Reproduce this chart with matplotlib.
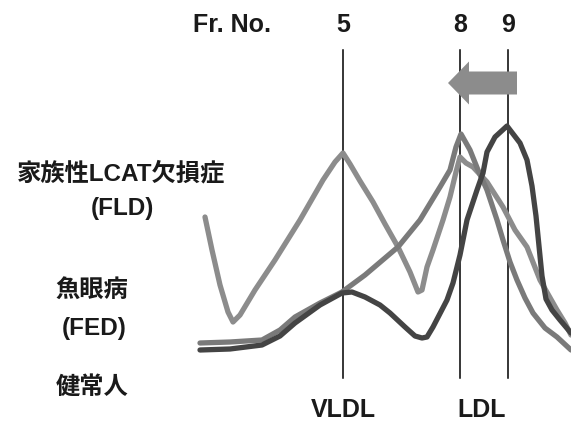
import matplotlib
matplotlib.use("Agg")
import matplotlib.pyplot as plt
from matplotlib.patches import FancyArrow

# elution position (x) and signal height (y, counted up from the bottom of the image)
fld_x = [205, 212, 220, 228, 233, 240, 255, 275, 300, 323, 335, 343, 350, 360, 373, 385, 398, 410, 418,
         422, 427, 433, 443, 450, 456, 460, 466, 473, 487, 503, 515, 527, 540, 557, 565, 571]
fld_y = [204, 171, 136, 109, 99, 106, 131, 161, 201, 241, 259, 268, 257, 240, 219, 197, 174, 149, 129,
         131, 154, 171, 201, 224, 249, 264, 258, 254, 239, 214, 191, 174, 141, 111, 98, 86]

fed_x = [200, 230, 262, 280, 295, 320, 342, 365, 398, 420, 440, 450, 456, 461, 470, 478, 487, 497,
         503, 510, 517, 525, 533, 545, 557, 571]
fed_y = [78, 79, 81, 91, 104, 118, 129, 146, 174, 201, 234, 251, 274, 287, 271, 251, 231, 201,
         181, 159, 141, 123, 108, 93, 84, 71]

normal_x = [200, 230, 262, 280, 295, 320, 342, 352, 365, 380, 390, 405, 415, 422, 427, 433, 447,
            453, 460, 467, 477, 483, 487, 495, 507, 520, 527, 532, 536, 539, 542, 546, 552, 560, 571]
normal_y = [71, 72, 76, 85, 98, 116, 128, 129, 124, 116, 108, 94, 85, 83, 84, 94, 121,
            138, 166, 201, 231, 248, 269, 284, 295, 278, 261, 235, 205, 175, 145, 122, 111, 101, 88]

fractions = ["5", "8", "9"]
fraction_x = [343, 460, 508]

plt.rcParams['font.family'] = ['Liberation Sans', 'Noto Sans CJK JP', 'DejaVu Sans']
plt.rcParams['font.weight'] = 'bold'

fig = plt.figure(figsize=(5.71, 4.21), dpi=100)
ax = fig.add_axes([0, 0, 1, 1])
ax.set_xlim(0, 571)
ax.set_ylim(0, 421)
ax.axis('off')

# fraction markers
for fx, lab in zip(fraction_x, fractions):
    ax.plot([fx, fx], [43, 371], color='black', lw=1.1, zorder=1)
    ax.text(fx, 396, lab, ha='center', va='center', fontsize=18, color='#1a1a1a')
ax.text(232, 396, "Fr. No.", ha='center', va='center', fontsize=18, color='#1a1a1a')

# curves
kw = dict(lw=3.8, solid_joinstyle='round', solid_capstyle='round', zorder=3)
ax.plot(fld_x, fld_y, color='#8c8c8c', **kw)
ax.plot(fed_x, fed_y, color='#7a7a7a', **kw)
ax.plot(normal_x, normal_y, color='#444444', **kw)

# shift arrow
ax.add_patch(FancyArrow(517, 338, -69, 0, width=23, head_width=43, head_length=21,
                        length_includes_head=True, color='#8c8c8c', lw=0, zorder=4))

# labels
ax.text(121, 247, "家族性LCAT欠損症", ha='center', va='center', fontsize=17.5, color='#1a1a1a')
ax.text(122, 213, "(FLD)", ha='center', va='center', fontsize=17.5, color='#1a1a1a')
ax.text(92, 131, "魚眼病", ha='center', va='center', fontsize=17.5, color='#1a1a1a')
ax.text(94, 92, "(FED)", ha='center', va='center', fontsize=17.5, color='#1a1a1a')
ax.text(92, 33, "健常人", ha='center', va='center', fontsize=17.5, color='#1a1a1a')
ax.text(343, 11, "VLDL", ha='center', va='center', fontsize=18, color='#1a1a1a')
ax.text(482, 11, "LDL", ha='center', va='center', fontsize=18, color='#1a1a1a')

fig.savefig("out.png", dpi=100)
